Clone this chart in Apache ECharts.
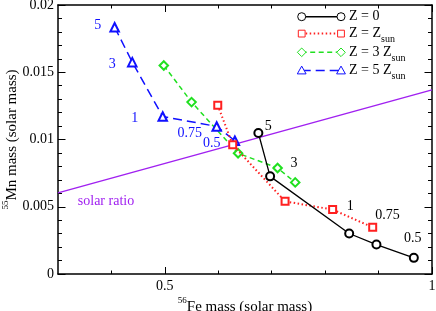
<!DOCTYPE html>
<html><head><meta charset="utf-8">
<script src="https://cdn.jsdelivr.net/npm/echarts@6/dist/echarts.min.js"></script>
<style>html,body{margin:0;padding:0;background:#fff}#c{width:436px;height:311px}</style>
</head><body><div id="c"></div>
<script>
// ---- data ----
const fe_Z0    = [0.675, 0.697, 0.845, 0.896, 0.966];
const mn_Z0    = [0.01048, 0.00726, 0.00301, 0.00219, 0.00120];
const fe_Zsun  = [0.599, 0.627, 0.725, 0.814, 0.889];
const mn_Zsun  = [0.01254, 0.00961, 0.00540, 0.00479, 0.00347];
const fe_3Zsun = [0.498, 0.550, 0.637, 0.711, 0.744];
const mn_3Zsun = [0.01550, 0.01278, 0.00898, 0.00788, 0.00681];
const fe_5Zsun = [0.406, 0.439, 0.496, 0.597, 0.631];
const mn_5Zsun = [0.01835, 0.01575, 0.01171, 0.01097, 0.00991];
const solarFe  = [0.3, 1.0];
const solarMn  = [0.00603, 0.01369];
const massLabels = ['5', '3', '1', '0.75', '0.5'];
const xMajorTicks = [0.5, 1];
const xMinorTicks = [0.4, 0.6, 0.7, 0.8, 0.9];
const seriesNames = ['Z = 0', 'Z = Z_sun', 'Z = 3 Z_sun', 'Z = 5 Z_sun'];

// ---- styling ----
const FONT = '"Liberation Serif", "Times New Roman", serif';
const C_BLACK = '#000000', C_RED = '#ff2020', C_GREEN = '#20e020', C_BLUE = '#1010ff', C_PURPLE = '#a020f0';
const blackLabelOffsets = [[10, -7], [24, -13], [1, -27], [11, -29], [-1, -20]];
const blueLabelOffsets  = [[-17, -2], [-20, 2], [-28, 2], [-27, 7], [-23, 3]];

function pairs(xs, ys, labels, offsets, color) {
  return xs.map((x, i) => {
    const d = { value: [x, ys[i]] };
    if (labels) {
      d.label = { show: true, formatter: labels[i], position: 'inside', offset: offsets[i],
        color: color, fontFamily: FONT, fontSize: 14 };
    }
    return d;
  });
}

const chart = echarts.init(document.getElementById('c'), null, { renderer: 'canvas' });

const xBase = { type: 'value', min: 0.3, max: 1, splitLine: { show: false }, gridIndex: 0 };
const yBase = { type: 'value', min: 0, max: 0.02, interval: 0.005, splitLine: { show: false } };
const axLine = { show: true, lineStyle: { color: '#000', width: 1.5 } };

// legend drawn as graphic (line with symbol at each end)
const legendRows = [
  { y: 16.7, color: C_BLACK, sym: 'circle', dash: null, w: 1.5, text: '{m|Z = 0}' },
  { y: 33.6, color: C_RED, sym: 'rect', dash: [1.5, 2.5], w: 2, text: '{m|Z = Z}{s|sun}' },
  { y: 52.3, color: C_GREEN, sym: 'diamond', dash: [5, 3.5], w: 1.5, text: '{m|Z = 3 Z}{s|sun}' },
  { y: 70.5, color: C_BLUE, sym: 'triangle', dash: [9, 5], w: 1.5, text: '{m|Z = 5 Z}{s|sun}' }
];
function symGraphic(kind, cx, cy, color) {
  const st = { fill: '#fff', stroke: color, lineWidth: 1 };
  const r = 4;
  if (kind === 'circle') return { type: 'circle', shape: { cx, cy, r }, style: st };
  if (kind === 'rect') return { type: 'rect', shape: { x: cx - 3.4, y: cy - 3.4, width: 6.8, height: 6.8 }, style: st };
  if (kind === 'diamond') return { type: 'polygon', shape: { points: [[cx, cy - 4.3], [cx + 4.3, cy], [cx, cy + 4.3], [cx - 4.3, cy]] }, style: st };
  return { type: 'polygon', shape: { points: [[cx, cy - 4.4], [cx + 4.4, cy + 3.4], [cx - 4.4, cy + 3.4]] }, style: st };
}
const legendGraphics = [];
legendRows.forEach(r => {
  legendGraphics.push({ type: 'line', shape: { x1: 301.7, y1: r.y, x2: 341, y2: r.y },
    style: { stroke: r.color, lineWidth: r.w, lineDash: r.dash } });
  legendGraphics.push(symGraphic(r.sym, 301.7, r.y, r.color));
  legendGraphics.push(symGraphic(r.sym, 341, r.y, r.color));
  legendGraphics.push({ type: 'text', x: 349, y: r.y,
    style: { text: r.text, fill: '#000', align: 'left', verticalAlign: 'middle',
      rich: { m: { fontFamily: FONT, fontSize: 14, fill: '#000' },
              s: { fontFamily: FONT, fontSize: 10, fill: '#000', padding: [12, 0, 0, 0] } } } });
});

const option = {
  animation: false,
  backgroundColor: '#fff',
  grid: { left: 58, right: 4, top: 5, bottom: 37, containLabel: false, outerBoundsMode: 'none' },
  xAxis: [
    Object.assign({}, xBase, { position: 'bottom', axisLine: axLine,
      axisTick: { show: true, inside: true, length: 7, customValues: xMajorTicks, lineStyle: { color: '#000', width: 1 } },
      axisLabel: { show: true, customValues: xMajorTicks, formatter: v => String(v), color: '#000', fontFamily: FONT, fontSize: 14, margin: 5 },
      name: '{sup|56}{n|Fe mass (solar mass)}', nameLocation: 'middle', nameGap: 22, nameMoveOverlap: false,
      nameTextStyle: { color: '#000', rich: { n: { fontFamily: FONT, fontSize: 15, color: '#000' },
        sup: { fontFamily: FONT, fontSize: 9, color: '#000', padding: [0, 0, 14, 0] } } } }),
    Object.assign({}, xBase, { position: 'bottom', axisLine: { show: false },
      axisTick: { show: true, inside: true, length: 3.5, customValues: xMinorTicks, lineStyle: { color: '#000', width: 1 } },
      axisLabel: { show: false } }),
    Object.assign({}, xBase, { position: 'top', axisLine: axLine,
      axisTick: { show: true, inside: true, length: 7, customValues: xMajorTicks, lineStyle: { color: '#000', width: 1 } },
      axisLabel: { show: false } }),
    Object.assign({}, xBase, { position: 'top', axisLine: { show: false },
      axisTick: { show: true, inside: true, length: 3.5, customValues: xMinorTicks, lineStyle: { color: '#000', width: 1 } },
      axisLabel: { show: false } })
  ],
  yAxis: [
    Object.assign({}, yBase, { position: 'left', axisLine: axLine,
      axisTick: { show: true, inside: true, length: 7.5, lineStyle: { color: '#000', width: 1 } },
      minorTick: { show: true, splitNumber: 5, length: 4, lineStyle: { color: '#000', width: 1 } },
      axisLabel: { show: true, color: '#000', fontFamily: FONT, fontSize: 14, margin: 4 },
      name: '{sup|55}{n|Mn mass (solar mass)}', nameLocation: 'middle', nameGap: 34, nameMoveOverlap: false,
      nameTextStyle: { color: '#000', rich: { n: { fontFamily: FONT, fontSize: 15, color: '#000' },
        sup: { fontFamily: FONT, fontSize: 9, color: '#000', padding: [0, 0, 14, 0] } } } }),
    Object.assign({}, yBase, { position: 'right', axisLine: axLine,
      axisTick: { show: true, inside: true, length: 7.5, lineStyle: { color: '#000', width: 1 } },
      minorTick: { show: true, splitNumber: 5, length: 4, lineStyle: { color: '#000', width: 1 } },
      axisLabel: { show: false } })
  ],
  graphic: legendGraphics,
  series: [
    { name: 'solar ratio', type: 'line', xAxisIndex: 0, yAxisIndex: 0, symbol: 'circle', symbolSize: 0, showSymbol: true,
      lineStyle: { color: C_PURPLE, width: 1.5 }, itemStyle: { color: C_PURPLE },
      data: solarFe.map((x, i) => {
        const d = { value: [x, solarMn[i]] };
        if (i === 0) d.label = { show: true, formatter: 'solar ratio', position: 'inside', offset: [48, 8.5],
          color: C_PURPLE, fontFamily: FONT, fontSize: 14 };
        return d;
      }), z: 2 },
    { name: seriesNames[0], type: 'line', symbol: 'emptyCircle', symbolSize: 8,
      lineStyle: { color: C_BLACK, width: 1.3 }, itemStyle: { color: C_BLACK, borderWidth: 1 },
      data: pairs(fe_Z0, mn_Z0, massLabels, blackLabelOffsets, C_BLACK), z: 5 },
    { name: seriesNames[1], type: 'line', symbol: 'emptyRect', symbolSize: 7,
      lineStyle: { color: C_RED, width: 2, type: [1.5, 2.5] }, itemStyle: { color: C_RED, borderWidth: 1 },
      data: pairs(fe_Zsun, mn_Zsun), z: 4 },
    { name: seriesNames[2], type: 'line', symbol: 'emptyDiamond', symbolSize: 8.5,
      lineStyle: { color: C_GREEN, width: 1.5, type: [5, 3.5] }, itemStyle: { color: C_GREEN, borderWidth: 1 },
      data: pairs(fe_3Zsun, mn_3Zsun), z: 3 },
    { name: seriesNames[3], type: 'line', symbol: 'emptyTriangle', symbolSize: 8.5,
      lineStyle: { color: C_BLUE, width: 1.5, type: [9, 5] }, itemStyle: { color: C_BLUE, borderWidth: 1 },
      data: pairs(fe_5Zsun, mn_5Zsun, massLabels, blueLabelOffsets, C_BLUE), z: 3 }
  ]
};
chart.setOption(option);
</script></body></html>
